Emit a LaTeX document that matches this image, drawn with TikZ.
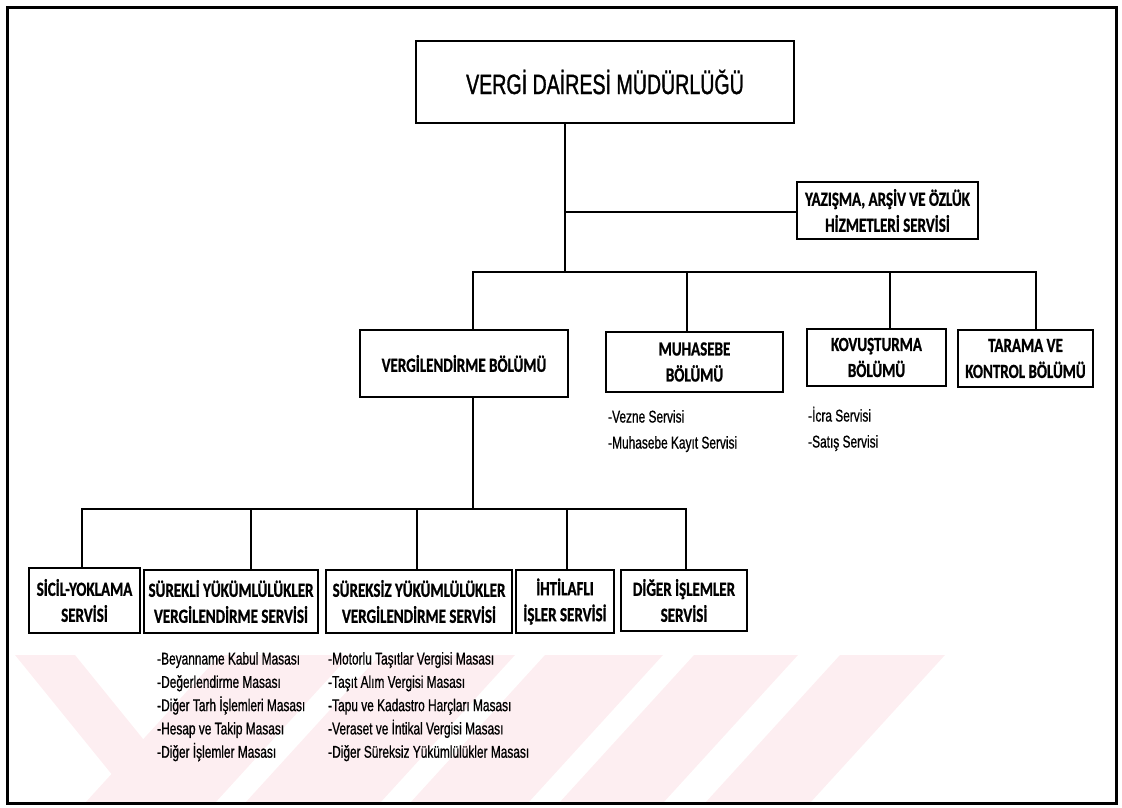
\documentclass[tikz,border=0pt]{standalone}
\usepackage{fontspec}
\setmainfont{Liberation Sans}
\newfontfamily\narrowfont[FakeStretch=0.7, FakeBold=0.8]{Liberation Sans}
\newfontfamily\titlefont[FakeStretch=0.7, FakeBold=1.2]{Liberation Sans}
\newfontfamily\labelfont[FakeStretch=0.75, FakeBold=0.9]{Carlito}
\definecolor{wmpink}{RGB}{253,238,241}

\begin{document}
\begin{tikzpicture}[x=1pt,y=-1pt,
  box/.style={draw, line width=1.8pt, inner sep=0pt, align=center,
    font=\labelfont\bfseries\fontsize{20}{26}\selectfont},
  conn/.style={line width=1.8pt, line cap=rect},
  item/.style={anchor=west, inner sep=0pt, text height=12pt, text depth=3pt,
    font=\narrowfont\fontsize{17}{20}\selectfont},
]
\useasboundingbox (0,0) rectangle (1122,807);

% faint stripes in the lower band
\begin{scope}
  \clip (9,655) rectangle (1114,801);
  \fill[wmpink] (15,655) -- (75,655) -- (195,803) -- (135,803) -- cycle;
  \foreach \a/\b in {220/350, 380/515, 545/663, 694/798, 840/945}
    \fill[wmpink] (\a,655) -- (\b,655) -- (\b-135,803) -- (\a-135,803) -- cycle;
\end{scope}

% outer frame
\draw[line width=3pt] (7,7) rectangle (1116,803);

% boxes
\node[box, minimum width=378pt, minimum height=82pt,
  font=\titlefont\fontsize{28}{32}\selectfont] (top) at (605,82) {VERGİ DAİRESİ MÜDÜRLÜĞÜ};
\node[box, minimum width=181pt, minimum height=57pt] (yaz) at (887.5,210.5)
  {YAZIŞMA, ARŞİV VE ÖZLÜK\\HİZMETLERİ SERVİSİ};

\node[box, minimum width=208pt, minimum height=67pt] (verg) at (464,363.5) {VERGİLENDİRME BÖLÜMÜ};
\node[box, minimum width=177pt, minimum height=60pt] (muh) at (694.5,362) {MUHASEBE\\BÖLÜMÜ};
\node[box, minimum width=139pt, minimum height=57pt] (kov) at (876.5,357.5) {KOVUŞTURMA\\BÖLÜMÜ};
\node[box, minimum width=135pt, minimum height=57pt] (tar) at (1025.5,358.5) {TARAMA VE\\KONTROL BÖLÜMÜ};

\node[box, minimum width=111pt, minimum height=65pt] (sic) at (84.5,600.5) {SİCİL-YOKLAMA\\SERVİSİ};
\node[box, minimum width=174pt, minimum height=63pt] (sur) at (231,601.5) {SÜREKLİ YÜKÜMLÜLÜKLER\\VERGİLENDİRME SERVİSİ};
\node[box, minimum width=186pt, minimum height=63pt] (sz) at (419,601.5) {SÜREKSİZ YÜKÜMLÜLÜKLER\\VERGİLENDİRME SERVİSİ};
\node[box, minimum width=98pt, minimum height=63pt] (iht) at (565,601.5) {İHTİLAFLI\\İŞLER SERVİSİ};
\node[box, minimum width=126pt, minimum height=61pt] (dig) at (684,600.5) {DİĞER İŞLEMLER\\SERVİSİ};

% upper connectors
\coordinate (trunk) at (565,272);
\coordinate (yj) at (565,212);
\draw[conn] (top.south -| trunk) -- (trunk);
\draw[conn] (yj) -- (yj -| yaz.west);
\coordinate (b1) at (473,272);
\coordinate (b2) at (687,272);
\coordinate (b3) at (890,272);
\coordinate (b4) at (1036,272);
\draw[conn] (b1) -- (b4);
\foreach \b/\n in {b1/verg, b2/muh, b3/kov, b4/tar}
  \draw[conn] (\b) -- (\b |- \n.north);

% lower connectors
\coordinate (l0) at (473,509);
\draw[conn] (verg.south -| l0) -- (l0);
\coordinate (c1) at (82,509);
\coordinate (c2) at (251,509);
\coordinate (c3) at (417,509);
\coordinate (c4) at (567,509);
\coordinate (c5) at (686,509);
\draw[conn] (c1) -- (c5);
\foreach \c/\n in {c1/sic, c2/sur, c3/sz, c4/iht, c5/dig}
  \draw[conn] (\c) -- (\c |- \n.north);

% service lists
\node[item] (muh-1) at (608,418) {-Vezne Servisi};
\node[item] (muh-2) at (608,444) {-Muhasebe Kayıt Servisi};
\node[item] (kov-1) at (808,417) {-İcra Servisi};
\node[item] (kov-2) at (808,443) {-Satış Servisi};

\foreach \t [count=\i] in {-Beyanname Kabul Masası, -Değerlendirme Masası,
    -Diğer Tarh İşlemleri Masası, -Hesap ve Takip Masası, -Diğer İşlemler Masası}
  \node[item] (sur-\i) at (157,{660+23.3*(\i-1)}) {\t};
\foreach \t [count=\i] in {-Motorlu Taşıtlar Vergisi Masası, -Taşıt Alım Vergisi Masası,
    -Tapu ve Kadastro Harçları Masası, -Veraset ve İntikal Vergisi Masası,
    -Diğer Süreksiz Yükümlülükler Masası}
  \node[item] (sz-\i) at (328,{660+23.3*(\i-1)}) {\t};
\end{tikzpicture}
\end{document}
